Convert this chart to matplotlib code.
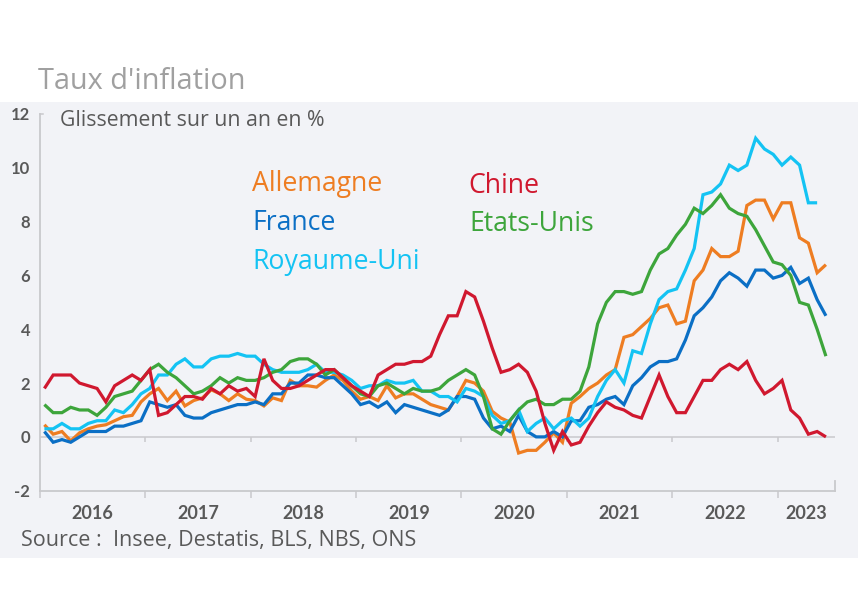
import matplotlib
matplotlib.use("Agg")
import matplotlib.pyplot as plt
from matplotlib.patches import Rectangle
import numpy as np

# ---------------- data (monthly, Jan 2016 -> Jun 2023), YoY % ----------------
allemagne = [
    0.45, 0.1, 0.2, -0.15, 0.15, 0.3, 0.4, 0.45, 0.6, 0.75, 0.8, 1.3,
    1.6, 1.8, 1.35, 1.7, 1.15, 1.35, 1.45, 1.75, 1.6, 1.35, 1.6, 1.4,
    1.35, 1.15, 1.45, 1.35, 2.1, 1.9, 1.9, 1.85, 2.1, 2.3, 2.1, 1.7,
    1.4, 1.5, 1.35, 1.9, 1.45, 1.6, 1.6, 1.4, 1.2, 1.1, 1.0, 1.5,
    2.1, 2.0, 1.7, 0.95, 0.7, 0.55, -0.6, -0.5, -0.5, -0.2, 0.15, -0.2,
    1.25, 1.5, 1.8, 2.0, 2.3, 2.5, 3.7, 3.8, 4.1, 4.4, 4.8, 4.9,
    4.2, 4.3, 5.8, 6.2, 7.0, 6.7, 6.7, 6.9, 8.6, 8.8, 8.8, 8.1,
    8.7, 8.7, 7.4, 7.2, 6.1, 6.4,
]
france = [
    0.2, -0.2, -0.1, -0.2, 0.0, 0.2, 0.2, 0.2, 0.4, 0.4, 0.5, 0.6,
    1.3, 1.2, 1.1, 1.2, 0.8, 0.7, 0.7, 0.9, 1.0, 1.1, 1.2, 1.2,
    1.3, 1.2, 1.6, 1.6, 2.0, 2.0, 2.3, 2.3, 2.2, 2.2, 1.9, 1.6,
    1.2, 1.3, 1.1, 1.3, 0.9, 1.2, 1.1, 1.0, 0.9, 0.8, 1.0, 1.5,
    1.5, 1.4, 0.7, 0.3, 0.4, 0.2, 0.8, 0.2, 0.0, 0.0, 0.2, 0.0,
    0.6, 0.6, 1.1, 1.2, 1.4, 1.5, 1.2, 1.9, 2.2, 2.6, 2.8, 2.8,
    2.9, 3.6, 4.5, 4.8, 5.2, 5.8, 6.1, 5.9, 5.6, 6.2, 6.2, 5.9,
    6.0, 6.3, 5.7, 5.9, 5.1, 4.5,
]
royaume_uni = [
    0.3, 0.3, 0.5, 0.3, 0.3, 0.5, 0.6, 0.6, 1.0, 0.9, 1.2, 1.6,
    1.8, 2.3, 2.3, 2.7, 2.9, 2.6, 2.6, 2.9, 3.0, 3.0, 3.1, 3.0,
    3.0, 2.7, 2.5, 2.4, 2.4, 2.4, 2.5, 2.7, 2.4, 2.4, 2.3, 2.1,
    1.8, 1.9, 1.9, 2.1, 2.0, 2.0, 2.1, 1.7, 1.7, 1.5, 1.5, 1.3,
    1.8, 1.7, 1.5, 0.8, 0.5, 0.6, 1.0, 0.2, 0.5, 0.7, 0.3, 0.6,
    0.7, 0.4, 0.7, 1.5, 2.1, 2.5, 2.0, 3.2, 3.1, 4.2, 5.1, 5.4,
    5.5, 6.2, 7.0, 9.0, 9.1, 9.4, 10.1, 9.9, 10.1, 11.1, 10.7, 10.5,
    10.1, 10.4, 10.1, 8.7, 8.7,
]
chine = [
    1.8, 2.3, 2.3, 2.3, 2.0, 1.9, 1.8, 1.3, 1.9, 2.1, 2.3, 2.1,
    2.5, 0.8, 0.9, 1.2, 1.5, 1.5, 1.4, 1.8, 1.6, 1.9, 1.7, 1.8,
    1.5, 2.9, 2.1, 1.8, 1.8, 1.9, 2.1, 2.3, 2.5, 2.5, 2.2, 1.9,
    1.7, 1.5, 2.3, 2.5, 2.7, 2.7, 2.8, 2.8, 3.0, 3.8, 4.5, 4.5,
    5.4, 5.2, 4.3, 3.3, 2.4, 2.5, 2.7, 2.4, 1.7, 0.5, -0.5, 0.2,
    -0.3, -0.2, 0.4, 0.9, 1.3, 1.1, 1.0, 0.8, 0.7, 1.5, 2.3, 1.5,
    0.9, 0.9, 1.5, 2.1, 2.1, 2.5, 2.7, 2.5, 2.8, 2.1, 1.6, 1.8,
    2.1, 1.0, 0.7, 0.1, 0.2, 0.0,
]
etats_unis = [
    1.2, 0.9, 0.9, 1.1, 1.0, 1.0, 0.8, 1.1, 1.5, 1.6, 1.7, 2.1,
    2.5, 2.7, 2.4, 2.2, 1.9, 1.6, 1.7, 1.9, 2.2, 2.0, 2.2, 2.1,
    2.1, 2.2, 2.4, 2.5, 2.8, 2.9, 2.9, 2.7, 2.3, 2.5, 2.2, 1.9,
    1.6, 1.5, 1.9, 2.0, 1.8, 1.6, 1.8, 1.7, 1.7, 1.8, 2.1, 2.3,
    2.5, 2.3, 1.5, 0.3, 0.1, 0.6, 1.0, 1.3, 1.4, 1.2, 1.2, 1.4,
    1.4, 1.7, 2.6, 4.2, 5.0, 5.4, 5.4, 5.3, 5.4, 6.2, 6.8, 7.0,
    7.5, 7.9, 8.5, 8.3, 8.6, 9.0, 8.5, 8.3, 8.2, 7.7, 7.1, 6.5,
    6.4, 6.0, 5.0, 4.9, 4.0, 3.0,
]
years = ["2016", "2017", "2018", "2019", "2020", "2021", "2022", "2023"]
y_ticks = [-2, 0, 2, 4, 6, 8, 10, 12]

series = [
    ("Allemagne", allemagne, "#EE7D22"),
    ("France", france, "#0B6FC5"),
    ("Royaume-Uni", royaume_uni, "#14C3F3"),
    ("Etats-Unis", etats_unis, "#3DA53B"),
    ("Chine", chine, "#D0182F"),
]

TICK_FONT = ["Lato", "DejaVu Sans"]
TEXT_FONT = ["Open Sans", "DejaVu Sans"]
plt.rcParams["font.family"] = TICK_FONT
GREY_TXT = "#595959"
AXIS_GREY = "#c9c9cc"

W, H = 858, 600
fig = plt.figure(figsize=(W / 100, H / 100), dpi=100)
fig.patch.set_facecolor("white")

# grey panel
fig.add_artist(Rectangle((0, 1 - 558 / H), 1, (558 - 102) / H,
                         transform=fig.transFigure, facecolor="#f2f3f7",
                         edgecolor="none", zorder=0))

ax = fig.add_axes([40 / W, 1 - 490.7 / H, (834.7 - 40) / W, (490.7 - 114) / H])
ax.set_facecolor("none")

n_months = 90.5
for name, vals, col in series:
    x = np.arange(len(vals)) + 0.5
    ax.plot(x, vals, color=col, lw=2.3, solid_joinstyle="miter",
            solid_capstyle="butt", zorder=3)

ax.set_xlim(0, n_months)
ax.set_ylim(-2, 12)

# spines
for s in ["top", "right"]:
    ax.spines[s].set_visible(False)
ax.spines["left"].set_color(AXIS_GREY)
ax.spines["left"].set_linewidth(1.3)
ax.spines["bottom"].set_color(AXIS_GREY)
ax.spines["bottom"].set_linewidth(1.3)

# zero line
ax.axhline(0, color=AXIS_GREY, lw=1.1, zorder=1)
bounds = [12 * k for k in range(1, len(years))]
ax.vlines(bounds, -0.18, 0, color=AXIS_GREY, lw=1.1, zorder=1)
# right end tick
ax.plot([n_months, n_months], [-2, -1.63], color=AXIS_GREY, lw=1.3,
        clip_on=False, zorder=1)
# small top tick on the left spine
ax.plot([0, 0.35], [12, 12], color=AXIS_GREY, lw=1.1, clip_on=False, zorder=1)

# x ticks
ax.set_xticks([0] + bounds)
ax.set_xticklabels([])
ax.tick_params(axis="x", which="major", length=5, width=1.1, color=AXIS_GREY,
               direction="out")
centers = [12 * k + 6 for k in range(len(years) - 1)] + [(84 + n_months) / 2]
ax.set_xticks(centers, minor=True)
ax.set_xticklabels(years, minor=True)
ax.tick_params(axis="x", which="minor", length=0, pad=10, labelsize=13,
               labelcolor=GREY_TXT)
for lab in ax.get_xticklabels(minor=True):
    lab.set_fontweight("bold")

# y ticks
ax.set_yticks(y_ticks)
ax.set_yticklabels([str(v) for v in y_ticks])
ax.tick_params(axis="y", length=0, pad=7, labelsize=12, labelcolor=GREY_TXT)
for lab in ax.get_yticklabels():
    lab.set_fontweight("bold")

# texts
fig.text(38 / W, 1 - 89 / H, "Taux d'inflation", fontsize=20.8, color="#a0a0a0",
         va="baseline", ha="left", family=TEXT_FONT)
fig.text(60 / W, 1 - 126.5 / H, "Glissement sur un an en %", fontsize=15.3,
         color=GREY_TXT, va="baseline", ha="left", family=TEXT_FONT)
fig.text(21 / W, 1 - 546 / H, "Source :  Insee, Destatis, BLS, NBS, ONS",
         fontsize=15.5, color=GREY_TXT, va="baseline", ha="left",
         family=TEXT_FONT)

legend_pos = {
    "Allemagne": (252, 190.7),
    "France": (252, 230),
    "Royaume-Uni": (252, 269.5),
    "Chine": (468, 193),
    "Etats-Unis": (469, 230.7),
}
for name, vals, col in series:
    lx, ly = legend_pos[name]
    fig.text(lx / W, 1 - ly / H, name, fontsize=19.2, color=col,
             va="baseline", ha="left", family=TEXT_FONT)

fig.savefig("out.png", dpi=100, facecolor="white")
